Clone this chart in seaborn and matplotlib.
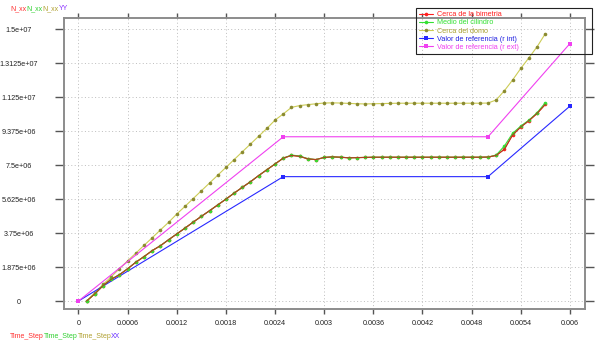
import matplotlib
matplotlib.use('Agg')
import matplotlib.pyplot as plt
import seaborn as sns
import pandas as pd

# ---------------- data ----------------
time_step = [0.0001, 0.0002, 0.0003, 0.0004, 0.0005, 0.0006, 0.0007, 0.0008, 0.0009, 0.0010,
             0.0011, 0.0012, 0.0013, 0.0014, 0.0015, 0.0016, 0.0017, 0.0018, 0.0019, 0.0020,
             0.0021, 0.0022, 0.0023, 0.0024, 0.0025, 0.0026, 0.0027, 0.0028, 0.0029, 0.0030,
             0.0031, 0.0032, 0.0033, 0.0034, 0.0035, 0.0036, 0.0037, 0.0038, 0.0039, 0.0040,
             0.0041, 0.0042, 0.0043, 0.0044, 0.0045, 0.0046, 0.0047, 0.0048, 0.0049, 0.0050,
             0.0051, 0.0052, 0.0053, 0.0054, 0.0055, 0.0056, 0.0057]

cerca_bimetria = [0.00, 0.40, 0.85, 1.20, 1.45, 1.78, 2.14, 2.45, 2.78, 3.05,
                  3.38, 3.70, 4.02, 4.35, 4.67, 4.98, 5.30, 5.62, 5.95, 6.27,
                  6.58, 6.92, 7.24, 7.56, 7.88, 8.03, 7.98, 7.84, 7.80, 7.92,
                  7.95, 7.93, 7.90, 7.91, 7.92, 7.93, 7.93, 7.93, 7.93, 7.93,
                  7.93, 7.93, 7.93, 7.93, 7.93, 7.93, 7.93, 7.93, 7.93, 7.94,
                  8.03, 8.37, 9.16, 9.60, 9.95, 10.35, 10.85]

medio_cilindro = [0.00, 0.40, 0.85, 1.20, 1.45, 1.78, 2.14, 2.45, 2.78, 3.05,
                  3.38, 3.70, 4.02, 4.35, 4.67, 4.98, 5.30, 5.62, 5.95, 6.27,
                  6.58, 6.92, 7.24, 7.56, 7.88, 8.05, 8.00, 7.85, 7.80, 7.92,
                  7.95, 7.93, 7.90, 7.91, 7.92, 7.93, 7.93, 7.93, 7.93, 7.93,
                  7.93, 7.93, 7.93, 7.93, 7.93, 7.93, 7.93, 7.93, 7.93, 7.94,
                  8.05, 8.55, 9.25, 9.65, 9.98, 10.39, 10.94]

cerca_domo = [0.00, 0.46, 0.92, 1.34, 1.78, 2.22, 2.64, 3.07, 3.49, 3.92,
              4.34, 4.80, 5.22, 5.65, 6.08, 6.51, 6.94, 7.37, 7.80, 8.23,
              8.66, 9.09, 9.52, 9.98, 10.32, 10.68, 10.78, 10.83, 10.88, 10.92,
              10.93, 10.92, 10.90, 10.88, 10.87, 10.88, 10.89, 10.90, 10.91, 10.91,
              10.91, 10.91, 10.91, 10.91, 10.91, 10.91, 10.91, 10.91, 10.91, 10.92,
              11.09, 11.60, 12.19, 12.83, 13.42, 14.03, 14.75]

ref_time = [0.0, 0.0025, 0.0050, 0.0060]
ref_int = [0.0, 6.86, 6.86, 10.75]
ref_ext = [0.0, 9.06, 9.06, 14.2]

series_labels = ["Cerca de la bimetria", "Medio del cilindro", "Cerca del domo",
                 "Valor de referencia (r int)", "Valor de referencia (r ext)"]

x_ticks = [0, 0.0006, 0.0012, 0.0018, 0.0024, 0.003, 0.0036, 0.0042, 0.0048, 0.0054, 0.006]
x_tick_labels = ["0", "0.0006", "0.0012", "0.0018", "0.0024", "0.003", "0.0036",
                 "0.0042", "0.0048", "0.0054", "0.006"]
y_ticks = [0, 1.875e6, 3.75e6, 5.625e6, 7.5e6, 9.375e6, 1.125e7, 1.3125e7, 1.5e7]
y_tick_labels = ["0", "1.875e+06", "3.75e+06", "5.625e+06", "7.5e+06", "9.375e+06",
                 "1.125e+07", "1.3125e+07", "1.5e+07"]

# ---------------- style ----------------
sns.set_style("white")
plt.rcParams['font.family'] = ['Liberation Sans', 'DejaVu Sans']

W, H = 600, 343
fig = plt.figure(figsize=(W / 100, H / 100), dpi=100)
ax = fig.add_axes([64 / W, 1 - 309 / H, (585 - 64) / W, (309 - 18) / H])

df = pd.DataFrame({"t": time_step,
                   "bim": [v * 1e6 for v in cerca_bimetria],
                   "cil": [v * 1e6 for v in medio_cilindro],
                   "dom": [v * 1e6 for v in cerca_domo]})
dref = pd.DataFrame({"t": ref_time,
                     "ri": [v * 1e6 for v in ref_int],
                     "re": [v * 1e6 for v in ref_ext]})

c_red = "#ff2020"
c_green = "#33e033"
c_olive_line = "#cccc55"
c_olive_mk = "#8a8a30"
c_blue = "#2828ff"
c_mag = "#f040f0"

lw = 0.8
ms = 2.6

sns.lineplot(data=df, x="t", y="bim", ax=ax, color=c_red, lw=lw, marker="o", ms=ms,
             mec=c_red, mfc=c_red, mew=0, label=series_labels[0], sort=False, estimator=None, zorder=3)
sns.lineplot(data=df, x="t", y="cil", ax=ax, color=c_green, lw=lw, marker="o", ms=ms,
             mec=c_green, mfc=c_green, mew=0, label=series_labels[1], sort=False, estimator=None, zorder=3.1)
sns.lineplot(data=df, x="t", y="bim", ax=ax, color="#b04020", lw=lw, sort=False,
             estimator=None, zorder=3.2, legend=False)
sns.lineplot(data=df, x="t", y="dom", ax=ax, color=c_olive_line, lw=lw, marker="o", ms=ms,
             mec=c_olive_mk, mfc=c_olive_mk, mew=0, label=series_labels[2], sort=False, estimator=None, zorder=3)
sns.lineplot(data=dref, x="t", y="ri", ax=ax, color=c_blue, lw=lw, marker="s", ms=2.2,
             mec=c_blue, mfc=c_blue, mew=0, label=series_labels[3], sort=False, estimator=None, zorder=3)
sns.lineplot(data=dref, x="t", y="re", ax=ax, color=c_mag, lw=lw, marker="s", ms=2.2,
             mec=c_mag, mfc=c_mag, mew=0, label=series_labels[4], sort=False, estimator=None, zorder=3)

# ---------------- axes ----------------
ax.set_xlim(-0.000177, 0.006184)
ax.set_ylim(-0.44e6, 15.61e6)
ax.set_xticks(x_ticks)
ax.set_xticklabels(x_tick_labels)
ax.set_yticks(y_ticks)
ax.set_yticklabels(y_tick_labels)
ax.set_xlabel("")
ax.set_ylabel("")

for s in ax.spines.values():
    s.set_visible(True)
    s.set_color("#8c8c8c")
    s.set_linewidth(1.4)

ax.tick_params(axis="x", which="both", direction="out", length=3.8, width=1.0, color="#555555",
               top=True, bottom=True, labelsize=5.2, pad=4.3, labelcolor="#222222")
ax.tick_params(axis="y", which="both", direction="out", length=6.5, width=1.0, color="#555555",
               left=True, right=True, labelsize=5.2, labelcolor="#222222", pad=26)
for lab in ax.get_yticklabels():
    lab.set_horizontalalignment("center")

ax.grid(True, linestyle=(0, (1, 2.5)), color="#bdbdbd", linewidth=0.7)
ax.set_axisbelow(True)

# ---------------- legend ----------------
handles, labels = ax.get_legend_handles_labels()
leg = ax.legend(handles, labels, loc="upper left",
                bbox_to_anchor=(416 / W, 1 - 51 / H, 176 / W, 43 / H),
                bbox_transform=fig.transFigure, mode="expand",
                fontsize=5.2, frameon=True, fancybox=False,
                edgecolor="#222222", handlelength=1.9, handletextpad=0.5,
                labelspacing=0.15, borderpad=0.45, borderaxespad=0)
frame = leg.get_frame()
frame.set_facecolor("none")
frame.set_edgecolor("#222222")
frame.set_alpha(None)
frame.set_linewidth(0.8)
for txt, col in zip(leg.get_texts(), [c_red, c_green, "#a8a030", "#2020e0", c_mag]):
    txt.set_color(col)

# ---------------- colored axis titles ----------------
renderer = fig.canvas.get_renderer()


def multicolor(x_px, y_px, pieces, size=5.0):
    x = x_px / W
    for s, c in pieces:
        t = fig.text(x, 1 - y_px / H, s, color=c, fontsize=size, va="center", ha="left")
        bb = t.get_window_extent(renderer=renderer)
        x += bb.width / fig.bbox.width


multicolor(10, 9, [("N_xx", "#ff3030"), ("N_xx", "#30d030"), ("N_xx", "#b0a030"), ("YY", "#8a30ff")])
multicolor(10, 336, [("Time_Step", "#ff3030"), ("Time_Step", "#30d030"),
                     ("Time_Step", "#b0a030"), ("XX", "#6a30ff")])

fig.savefig("out.png", dpi=100)
